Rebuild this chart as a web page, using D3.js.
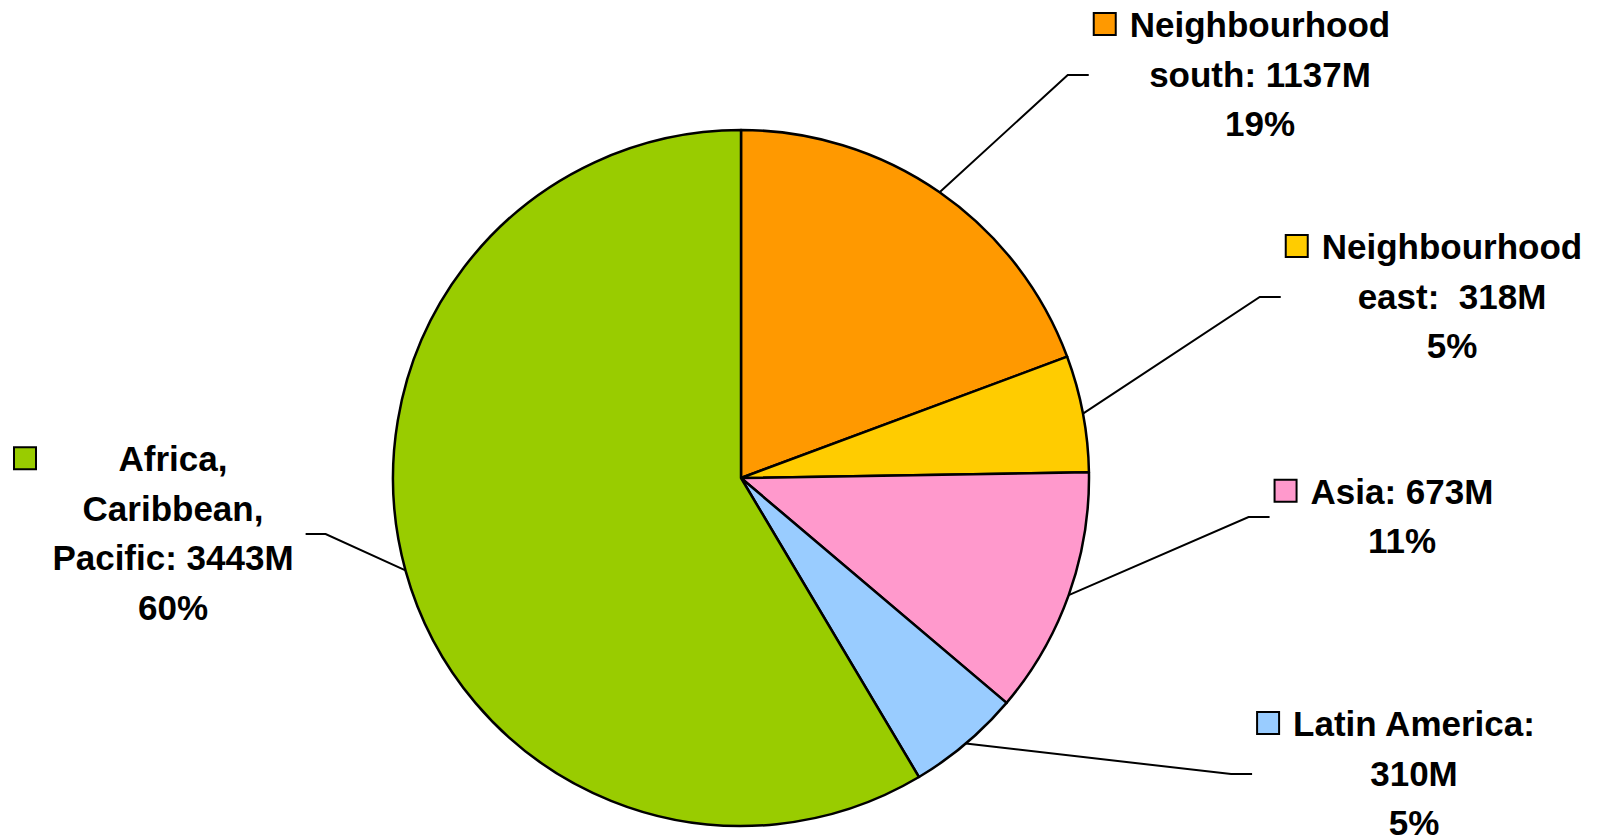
<!DOCTYPE html>
<html>
<head>
<meta charset="utf-8">
<script src="https://cdn.jsdelivr.net/npm/d3@7"></script>
<style>
  html, body { margin: 0; padding: 0; background: #fff; }
  svg { display: block; }
  text { font-family: "Liberation Sans", Arial, sans-serif; font-weight: bold; font-size: 35px; fill: #000; white-space: pre; }
</style>
</head>
<body>
<svg id="chart" width="1597" height="838"></svg>
<script>
// ---- data ----
const categories = ["Neighbourhood south", "Neighbourhood east", "Asia", "Latin America", "Africa, Caribbean, Pacific"];
const categoryLines = [["Neighbourhood", "south"], ["Neighbourhood", "east"], ["Asia"], ["Latin America"], ["Africa,", "Caribbean,", "Pacific"]];
const values = [1137, 318, 673, 310, 3443];          // millions
const valueSeparators = [": ", ":  ", ": ", ":", ": "];
const valueOnNewLine = [false, false, false, true, false];
const percentLabels = ["19%", "5%", "11%", "5%", "60%"];
const colors = ["#FF9900", "#FFCC00", "#FF99CC", "#99CCFF", "#99CC00"];

// ---- layout ----
const W = 1597, H = 838;
const cx = 741, cy = 478, R = 348;
const labelPos = [
  { x: 1260, y: 74, side: "right" },
  { x: 1452, y: 296, side: "right" },
  { x: 1402, y: 516, side: "right" },
  { x: 1414, y: 773, side: "right" },
  { x: 173, y: 533, side: "left" }
];
const lineH = 49.5;
const keySize = 22;

const svg = d3.select("#chart");
const g = svg.append("g").attr("transform", `translate(${cx},${cy})`);

const pie = d3.pie().sort(null).value(d => d).startAngle(0).endAngle(2 * Math.PI);
const arcs = pie(values);
const arc = d3.arc().innerRadius(0).outerRadius(R);

g.selectAll("path.slice")
  .data(arcs)
  .join("path")
  .attr("class", "slice")
  .attr("d", arc)
  .attr("fill", (d, i) => colors[i])
  .attr("stroke", "#000")
  .attr("stroke-width", 2.5)
  .attr("stroke-linejoin", "round");

const labelsG = svg.append("g");
arcs.forEach((d, i) => {
  const lines = categoryLines[i].slice();
  const vText = values[i] + "M";
  if (valueOnNewLine[i]) {
    lines[lines.length - 1] = lines[lines.length - 1] + valueSeparators[i];
    lines.push(vText);
  } else {
    lines[lines.length - 1] = lines[lines.length - 1] + valueSeparators[i] + vText;
  }
  lines.push(percentLabels[i]);

  const pos = labelPos[i];
  const n = lines.length;
  const capH = 25;
  const blockH = (n - 1) * lineH + capH;
  const firstBase = pos.y - blockH / 2 + capH;

  const lg = labelsG.append("g");
  let maxW = 0;
  lines.forEach((t, k) => {
    const te = lg.append("text")
      .attr("x", pos.x)
      .attr("y", firstBase + k * lineH)
      .attr("text-anchor", "middle")
      .text(t);
    const w = te.node().getComputedTextLength();
    if (w > maxW) maxW = w;
  });
  const left = pos.x - maxW / 2;
  const right = pos.x + maxW / 2;

  let keyX;
  if (pos.side === "left") keyX = 14;
  else keyX = left - 14 - keySize;
  lg.append("rect")
    .attr("x", keyX)
    .attr("y", firstBase - capH + 1)
    .attr("width", keySize)
    .attr("height", keySize)
    .attr("fill", colors[i])
    .attr("stroke", "#000")
    .attr("stroke-width", 2);

  const mid = (d.startAngle + d.endAngle) / 2;
  const px = cx + R * Math.sin(mid);
  const py = cy - R * Math.cos(mid);
  let endX, elbowX;
  if (pos.side === "left") {
    endX = right + 12;
    elbowX = endX + 20;
  } else {
    endX = keyX - 5;
    elbowX = endX - 21;
  }
  const ly = pos.y + 1;
  labelsG.append("path")
    .attr("d", d3.line()([[px, py], [elbowX, ly], [endX, ly]]))
    .attr("fill", "none")
    .attr("stroke", "#000")
    .attr("stroke-width", 2);
});
</script>
</body>
</html>
